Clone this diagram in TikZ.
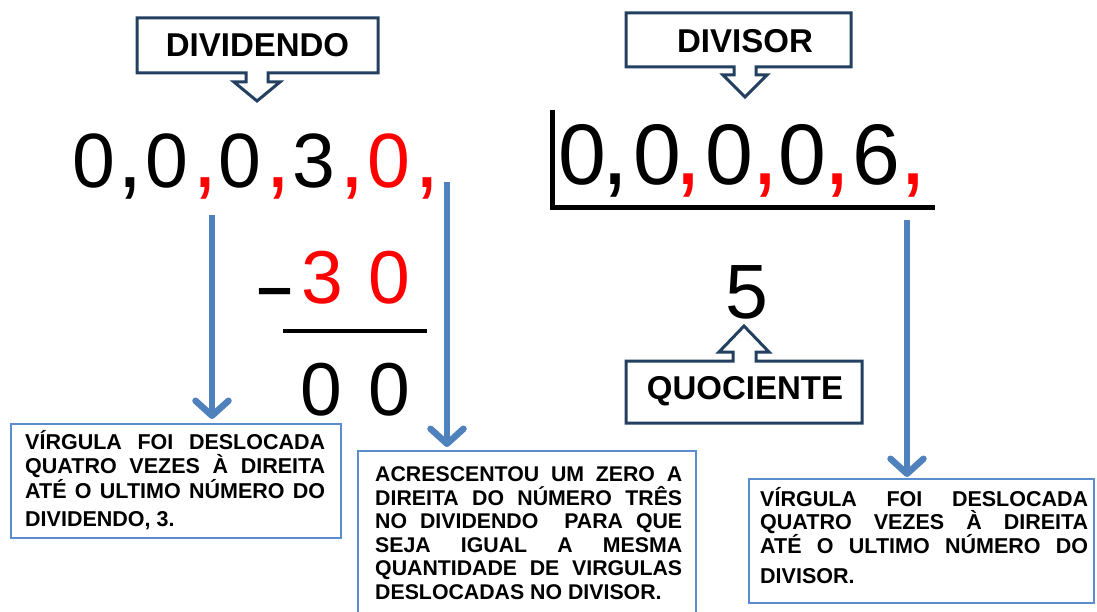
\documentclass[tikz,border=0pt]{standalone}
\usepackage{fontspec}
\setmainfont{Liberation Sans}
\usetikzlibrary{arrows.meta}
\definecolor{navy}{RGB}{36,64,97}
\definecolor{arrowblue}{RGB}{79,129,189}
\definecolor{boxblue}{RGB}{91,140,205}
\definecolor{numred}{RGB}{255,0,0}
\hyphenpenalty=10000
\exhyphenpenalty=10000
\newcommand{\cm}{\makebox[0pt]{,}}
\begin{document}
\begin{tikzpicture}[x=1pt,y=-1pt,
  dnum/.style={font=\fontsize{77}{77}\selectfont, anchor=base, inner sep=0pt},
  vnum/.style={font=\fontsize{86}{86}\selectfont, anchor=base, inner sep=0pt},
  snum/.style={font=\fontsize{75}{75}\selectfont, anchor=base, inner sep=0pt},
  dcom/.style={font=\fontsize{92}{92}\selectfont, anchor=base, inner sep=0pt},
  vcom/.style={font=\fontsize{100}{100}\selectfont, anchor=base, inner sep=0pt},
  redc/.style={text=numred},
  callout/.style={draw=navy, line width=3pt, fill=white, line join=miter},
  calltext/.style={font=\fontsize{33}{33}\selectfont\bfseries, inner sep=0pt},
  bluearrow/.style={draw=arrowblue, line width=6.5pt,
    -{Straight Barb[length=15pt,width=33pt,line cap=round,line join=round]}},
  infobox/.style={draw=boxblue, line width=1.6pt, fill=white},
  infotext/.style={font=\fontsize{21.5}{23.4}\selectfont\bfseries, align=justify,
    inner sep=0pt, anchor=north west}
]
\useasboundingbox (0,0) rectangle (1097,612);
\fill[white] (0,0) rectangle (1097,612);
\clip (0,0) rectangle (1097,612);

% ---------- callouts ----------
\draw[callout] (137,18) -- (378,18) -- (378,73) -- (268,73) -- (268,82) -- (280,82)
  -- (257,101) -- (234,82) -- (246,82) -- (246,73) -- (137,73) -- cycle;
\node[calltext] (dividendo) at (257.5,45.5) {DIVIDENDO};

\draw[callout] (626,13) -- (851,13) -- (851,67) -- (756,67) -- (756,75) -- (767,75)
  -- (745,97) -- (723,75) -- (734,75) -- (734,67) -- (626,67) -- cycle;
\node[calltext] (divisor) at (745,41) {DIVISOR};

\draw[callout] (626,361) -- (733,361) -- (733,352) -- (719,352) -- (744,326)
  -- (769,352) -- (756,352) -- (756,361) -- (862,361) -- (862,423) -- (626,423) -- cycle;
\node[calltext] (quociente) at (745,391) {QUOCIENTE};

% ---------- dividend ----------
\node[dnum] (n1) at (93.5,188) {0};
\node[dcom] (c1) at (130,188) {\cm};
\node[dnum] (n2) at (166.5,188) {0};
\node[dcom,redc] (c2) at (205,188) {\cm};
\node[dnum] (n3) at (240,188) {0};
\node[dcom,redc] (c3) at (278,188) {\cm};
\node[dnum] (n4) at (314,188) {3};
\node[dcom,redc] (c4) at (352,188) {\cm};
\node[dnum,redc] (n5) at (388.5,188) {0};
\node[dcom,redc] (c5) at (427,188) {\cm};

% ---------- divisor ----------
\node[vnum] (m1) at (582,185) {0};
\node[vcom] (k1) at (615,185) {\cm};
\node[vnum] (m2) at (657,185) {0};
\node[vcom,redc] (k2) at (688,185) {\cm};
\node[vnum] (m3) at (729,185) {0};
\node[vcom,redc] (k3) at (765,185) {\cm};
\node[vnum] (m4) at (802,185) {0};
\node[vcom,redc] (k4) at (837,185) {\cm};
\node[vnum] (m5) at (876,185) {6};
\node[vcom,redc] (k5) at (913,185) {\cm};
\draw[line width=5pt] (552,110) -- (552,208) -- (935,208);

% ---------- subtraction ----------
\node[font=\fontsize{63}{63}\selectfont\bfseries, anchor=base, inner sep=0pt] (minus) at (275.5,308) {–};
\node[snum,redc] (s1) at (322,303) {3};
\node[snum,redc] (s2) at (389,303) {0};
\draw[line width=3.5pt] (283,331) -- (427,331);
\node[snum] (r1) at (321,415) {0};
\node[snum] (r2) at (389,415) {0};

% ---------- quotient ----------
\node[dnum] (q) at (747,318) {5};

% ---------- info boxes ----------
\node[infobox, minimum width=330pt, minimum height=114pt, anchor=north west, inner sep=0pt] (box1) at (10,423) {};
\node[infotext, text width=300pt, font=\fontsize{21.5}{24.5}\selectfont\bfseries] (t1) at (25,430)
  {VÍRGULA FOI DESLOCADA\linebreak QUATRO VEZES À DIREITA\linebreak ATÉ O ULTIMO NÚMERO DO\vspace{4pt}\linebreak DIVIDENDO, 3.};

\node[infobox, minimum width=338pt, minimum height=180pt, anchor=north west, inner sep=0pt] (box2) at (357,450) {};
\node[infotext, text width=307pt, font=\fontsize{21.3}{23.5}\selectfont\bfseries] (t2) at (375,466.5)
  {ACRESCENTOU UM ZERO A\linebreak DIREITA DO NÚMERO TRÊS\linebreak NO DIVIDENDO \ PARA QUE\linebreak SEJA IGUAL A MESMA\linebreak QUANTIDADE DE VIRGULAS\linebreak DESLOCADAS NO DIVISOR.};

\node[infobox, minimum width=345pt, minimum height=124pt, anchor=north west, inner sep=0pt] (box3) at (748,478) {};
\node[infotext, text width=328pt] (t3) at (760,487)
  {VÍRGULA FOI DESLOCADA\linebreak QUATRO VEZES À DIREITA\linebreak ATÉ O ULTIMO NÚMERO DO\vspace{7pt}\linebreak DIVISOR.};

% ---------- blue arrows ----------
\coordinate (a1) at (212,215);
\coordinate (a2) at (447,182);
\coordinate (a3) at (907,220);
\draw[bluearrow, shorten >=4pt] (a1) -- (a1 |- box1.north);
\draw[bluearrow, shorten >=3pt] (a2) -- (a2 |- box2.north);
\draw[bluearrow, shorten >=1pt] (a3) -- (a3 |- box3.north);
\end{tikzpicture}
\end{document}
